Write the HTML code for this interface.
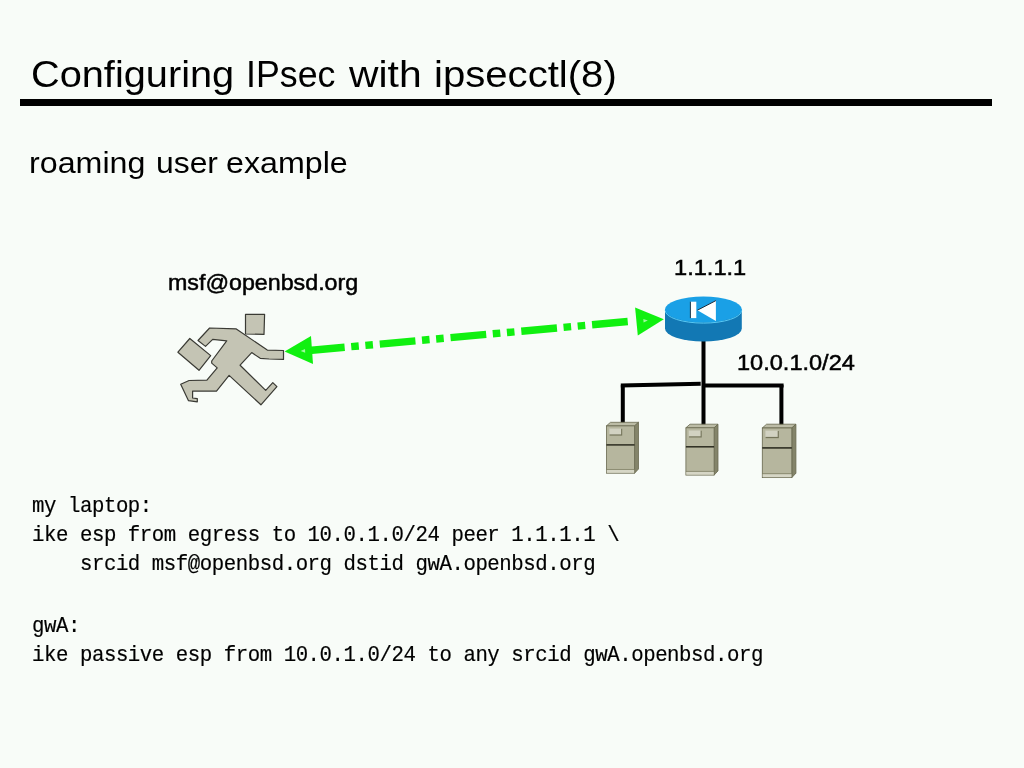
<!DOCTYPE html>
<html>
<head>
<meta charset="utf-8">
<title>Configuring IPsec with ipsecctl(8)</title>
<style>
html,body{margin:0;padding:0;}
body{width:1024px;height:768px;overflow:hidden;background:#f8fcf8;position:relative;color:#000;}
.t{position:absolute;white-space:pre;line-height:1;transform-origin:0 0;color:#000;font-variant-ligatures:none;font-kerning:none;will-change:transform;}
span.w{display:inline-block;position:relative;white-space:pre;transform-origin:0 0;}
#bar{position:absolute;left:20px;top:99px;width:972px;height:7px;background:#000;}
#dia{position:absolute;left:0;top:0;width:1024px;height:768px;}
#title{left:0;top:56.5px;font-size:36.56px;font-family:"Liberation Sans", sans-serif;}
#title0{left:30.68px;transform:scaleX(1.0869);}
#title1{left:48.61px;transform:scaleX(0.9777);}
#title2{left:50.36px;transform:scaleX(1.117);}
#title3{left:60.2px;transform:scaleX(1.0975);}
#sub{left:0;top:148.1px;font-size:29.43px;font-family:"Liberation Sans", sans-serif;}
#sub0{left:29.0px;transform:scaleX(1.095);}
#sub1{left:41.2px;transform:scaleX(1.0828);}
#sub2{left:46.43px;transform:scaleX(1.095);}
#msf{left:167.5px;top:272.3px;font-size:21.84px;font-family:"Liberation Sans", sans-serif;transform:scale(1.0643,1);-webkit-text-stroke:0.5px #000;}
#ip1{left:673.7px;top:257.2px;font-size:22.05px;font-family:"Liberation Sans", sans-serif;transform:scale(1.0718,1);-webkit-text-stroke:0.5px #000;}
#net{left:736.6px;top:351.5px;font-size:21.73px;font-family:"Liberation Sans", sans-serif;transform:scale(1.0844,1);-webkit-text-stroke:0.5px #000;}
#c1{left:32.4px;top:496.95px;font-size:20.73px;font-family:"Liberation Mono", monospace;transform:scale(1.0,1.08);transform-origin:0 15.88px;letter-spacing:-0.45px;-webkit-text-stroke:0.18px #000;}
#c2{left:32.4px;top:525.85px;font-size:20.73px;font-family:"Liberation Mono", monospace;transform:scale(1.0,1.08);transform-origin:0 15.88px;letter-spacing:-0.45px;-webkit-text-stroke:0.18px #000;}
#c3{left:32.4px;top:554.75px;font-size:20.73px;font-family:"Liberation Mono", monospace;transform:scale(1.0,1.08);transform-origin:0 15.88px;letter-spacing:-0.45px;-webkit-text-stroke:0.18px #000;}
#c4{left:32.4px;top:617.3px;font-size:20.73px;font-family:"Liberation Mono", monospace;transform:scale(1.0,1.08);transform-origin:0 15.88px;letter-spacing:-0.45px;-webkit-text-stroke:0.18px #000;}
#c5{left:32.4px;top:646.3px;font-size:20.73px;font-family:"Liberation Mono", monospace;transform:scale(1.0,1.08);transform-origin:0 15.88px;letter-spacing:-0.45px;-webkit-text-stroke:0.18px #000;}
</style>
</head>
<body>
<div id="bar"></div>
<svg id="dia" width="1024" height="768" viewBox="0 0 1024 768">
<!-- running man -->
<g fill="#c4c4b4" stroke="#3a3a34" stroke-width="1.2" stroke-linejoin="round">
<polygon points="245.5,314.3 264.6,314.3 264,334.4 245.5,334"/>
<polygon points="189.8,338.5 210.7,355.6 199,370.3 177.9,352.2"/>
<polygon points="209.6,328 236.3,328.9 267.3,350.1 283.5,350.5 283.5,359.4 269.1,359 260.2,358.3 251.7,352.6 240.1,365.2 265.7,390.4 272.8,382.6 276.9,386.7 260.9,404.8 229.1,375.4 216.5,391.1 192.6,391.1 192.6,398 197.3,398.6 197.3,401.8 188.5,400.7 180.7,384.3 189.1,380.5 206.9,380.2 217.2,367.9 211.7,363.1 211.7,361 226.7,340.8 212.7,339.4 205.5,346.4 198,340.5"/>
</g>
<!-- green arrow -->
<g>
<line x1="309" y1="350.5" x2="631.5" y2="321.2" stroke="#10f010" stroke-width="7.4" stroke-dasharray="35.8 6.6 7.6 6.6 7.6 6.86" fill="none"/>
<polygon points="284.6,351.6 311,336 313,364" fill="#10f010"/>
<polygon points="300.6,351 305,348.9 305.2,352.7" fill="#a0f8a0"/>
<polygon points="663.8,319.3 635.1,307.4 637.8,335.5" fill="#10f010"/>
<polygon points="647.8,320.6 643.3,318.9 643.6,322.6" fill="#a0f8a0"/>
</g>
<!-- network lines -->
<g stroke="#000" stroke-width="4" fill="none" stroke-linecap="butt">
<line x1="703.5" y1="340" x2="703.5" y2="425"/>
<line x1="620.8" y1="385.4" x2="700.7" y2="383.8"/>
<line x1="703.5" y1="385.6" x2="783.6" y2="385.6"/>
<line x1="622.8" y1="385" x2="622.8" y2="423"/>
<line x1="781.4" y1="385" x2="781.4" y2="425"/>
</g>
<!-- router -->
<g>
<path d="M665,309.5 L665,328.6 A38.4,13 0 0 0 741.8,328.6 L741.8,309.5 Z" fill="#1278b4"/>
<ellipse cx="703.4" cy="309.5" rx="38.4" ry="13" fill="#1aa0e6"/>
<path d="M665.2,310.5 A38.2,12.6 0 0 0 741.6,310.5" fill="none" stroke="#58c8f4" stroke-width="1"/>
<rect x="690.6" y="301.7" width="5.7" height="16.4" fill="#fff"/>
<line x1="690.4" y1="301.7" x2="690.4" y2="318.1" stroke="#1a2a3a" stroke-width="0.9"/>
<polygon points="697.4,310.2 715.9,300.6 715.9,321.1" fill="#fff"/>
<line x1="697.4" y1="310.2" x2="715.9" y2="300.6" stroke="#1a2a3a" stroke-width="1"/>
</g>
<!-- servers -->

<g transform="translate(606.4,422.3)">
<polygon points="0,3.6 4.1,0 32.1,0 28.2,3.6" fill="#bcbca6" stroke="#6a6a50" stroke-width="0.8" stroke-linejoin="round"/>
<polygon points="28.2,3.6 32.1,0 32.1,46.7 28.2,50.9" fill="#84846a" stroke="#6a6a50" stroke-width="0.8" stroke-linejoin="round"/>
<rect x="0" y="3.6" width="28.2" height="47.3" fill="#b6b69e" stroke="#6a6a50" stroke-width="0.8"/>
<rect x="0.4" y="47.4" width="27.4" height="3.1" fill="#d6d6c6"/>
<line x1="0" y1="47.2" x2="28.2" y2="47.2" stroke="#77775c" stroke-width="0.7"/>
<line x1="0" y1="22.6" x2="28.2" y2="22.6" stroke="#2c2c20" stroke-width="1.5"/>
<rect x="3.2" y="6.5" width="12.6" height="6.8" fill="#74745a"/>
<rect x="2.8" y="6.1" width="11.9" height="6" fill="#d2d2c2"/>
</g>
<g transform="translate(685.9,424.2)">
<polygon points="0,3.6 4.1,0 32.1,0 28.2,3.6" fill="#bcbca6" stroke="#6a6a50" stroke-width="0.8" stroke-linejoin="round"/>
<polygon points="28.2,3.6 32.1,0 32.1,46.7 28.2,50.9" fill="#84846a" stroke="#6a6a50" stroke-width="0.8" stroke-linejoin="round"/>
<rect x="0" y="3.6" width="28.2" height="47.3" fill="#b6b69e" stroke="#6a6a50" stroke-width="0.8"/>
<rect x="0.4" y="47.4" width="27.4" height="3.1" fill="#d6d6c6"/>
<line x1="0" y1="47.2" x2="28.2" y2="47.2" stroke="#77775c" stroke-width="0.7"/>
<line x1="0" y1="22.6" x2="28.2" y2="22.6" stroke="#2c2c20" stroke-width="1.5"/>
<rect x="3.2" y="6.5" width="12.6" height="6.8" fill="#74745a"/>
<rect x="2.8" y="6.1" width="11.9" height="6" fill="#d2d2c2"/>
</g>
<g transform="translate(762.3,424.2) scale(1.047,1.049)">
<polygon points="0,3.6 4.1,0 32.1,0 28.2,3.6" fill="#bcbca6" stroke="#6a6a50" stroke-width="0.8" stroke-linejoin="round"/>
<polygon points="28.2,3.6 32.1,0 32.1,46.7 28.2,50.9" fill="#84846a" stroke="#6a6a50" stroke-width="0.8" stroke-linejoin="round"/>
<rect x="0" y="3.6" width="28.2" height="47.3" fill="#b6b69e" stroke="#6a6a50" stroke-width="0.8"/>
<rect x="0.4" y="47.4" width="27.4" height="3.1" fill="#d6d6c6"/>
<line x1="0" y1="47.2" x2="28.2" y2="47.2" stroke="#77775c" stroke-width="0.7"/>
<line x1="0" y1="22.6" x2="28.2" y2="22.6" stroke="#2c2c20" stroke-width="1.5"/>
<rect x="3.2" y="6.5" width="12.6" height="6.8" fill="#74745a"/>
<rect x="2.8" y="6.1" width="11.9" height="6" fill="#d2d2c2"/>
</g>
</svg>

<div class="t" id="title"><span class="w" id="title0">Configuring </span><span class="w" id="title1">IPsec </span><span class="w" id="title2">with </span><span class="w" id="title3">ipsecctl(8)</span></div>
<div class="t" id="sub"><span class="w" id="sub0">roaming </span><span class="w" id="sub1">user </span><span class="w" id="sub2">example</span></div>
<div class="t" id="msf">msf@openbsd.org</div>
<div class="t" id="ip1">1.1.1.1</div>
<div class="t" id="net">10.0.1.0/24</div>
<div class="t" id="c1">my laptop:</div>
<div class="t" id="c2">ike esp from egress to 10.0.1.0/24 peer 1.1.1.1 \</div>
<div class="t" id="c3">    srcid msf@openbsd.org dstid gwA.openbsd.org</div>
<div class="t" id="c4">gwA:</div>
<div class="t" id="c5">ike passive esp from 10.0.1.0/24 to any srcid gwA.openbsd.org</div>
</body>
</html>
